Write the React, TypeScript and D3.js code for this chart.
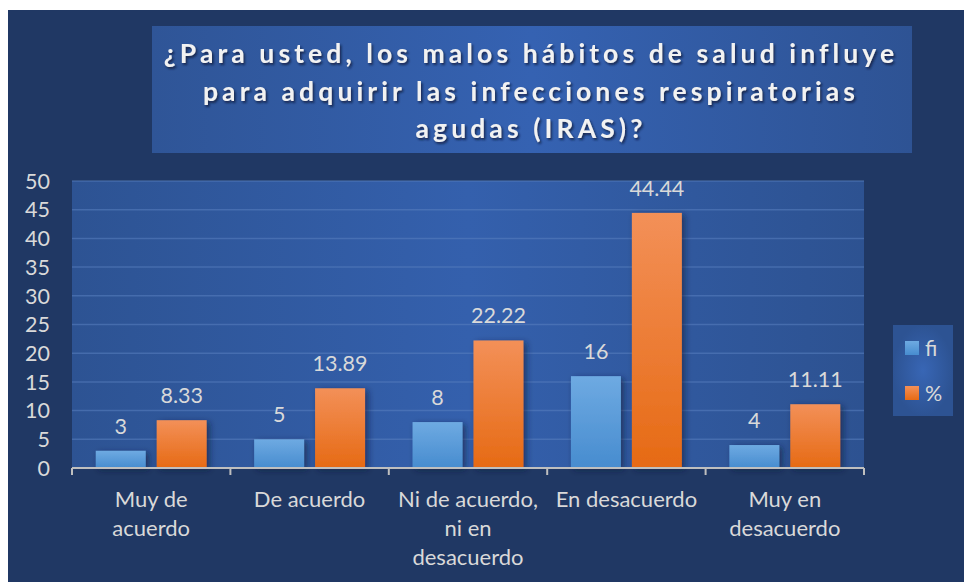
import React, { useEffect, useRef } from "react";
import * as d3 from "d3";

// datos
const categorias = [
  ["Muy de", "acuerdo"],
  ["De acuerdo"],
  ["Ni de acuerdo,", "ni en", "desacuerdo"],
  ["En desacuerdo"],
  ["Muy en", "desacuerdo"],
];
const fi = [3, 5, 8, 16, 4];
const porcentaje = [8.33, 13.89, 22.22, 44.44, 11.11];
const series = ["fi", "%"];
const yTicks = [0, 5, 10, 15, 20, 25, 30, 35, 40, 45, 50];
const tituloLineas = [
  "¿Para usted, los malos hábitos de salud influye",
  "para adquirir las infecciones respiratorias",
  "agudas (IRAS)?",
];

const W = 964;
const H = 582;
const FONT = "Lato, 'Open Sans', sans-serif";

export default function App() {
  const ref = useRef<SVGSVGElement>(null);

  useEffect(() => {
    const svg = d3.select(ref.current);
    svg.selectAll("*").remove();

    const defs = svg.append("defs");
    const lin = (id: string, stops: [string, string][], x2 = "0", y2 = "1") => {
      const g = defs.append("linearGradient").attr("id", id)
        .attr("x1", 0).attr("y1", 0).attr("x2", x2).attr("y2", y2);
      stops.forEach(([o, c]) => g.append("stop").attr("offset", o).attr("stop-color", c));
    };
    lin("gBlue", [["0", "#6eaae2"], ["1", "#478ccf"]]);
    lin("gOrange", [["0", "#f39058"], ["1", "#e66a14"]]);
    lin("gPlot", [["0", "#2d5393"], ["0.5", "#3460ad"], ["1", "#2d5291"]], "1", "0");
    lin("gTitle", [["0", "#2f5597"], ["0.5", "#3562b2"], ["1", "#2e5394"]], "1", "0");
    const rg = defs.append("radialGradient").attr("id", "gLegend");
    rg.append("stop").attr("offset", "0").attr("stop-color", "#3866b5");
    rg.append("stop").attr("offset", "1").attr("stop-color", "#2d5393");

    const sh = defs.append("filter").attr("id", "shadow")
      .attr("x", "-30%").attr("y", "-30%").attr("width", "160%").attr("height", "160%");
    sh.append("feDropShadow").attr("dx", 3).attr("dy", 2).attr("stdDeviation", 3)
      .attr("flood-color", "#0b1a38").attr("flood-opacity", 0.6);
    const tsh = defs.append("filter").attr("id", "tshadow");
    tsh.append("feDropShadow").attr("dx", 1.5).attr("dy", 2).attr("stdDeviation", 1.2)
      .attr("flood-color", "#0b1a38").attr("flood-opacity", 0.8);

    // fondo
    svg.append("rect").attr("x", 8).attr("y", 10).attr("width", W - 8).attr("height", H - 10)
      .attr("fill", "#203864");

    // titulo
    svg.append("rect").attr("x", 152).attr("y", 26).attr("width", 760).attr("height", 127)
      .attr("fill", "url(#gTitle)");
    svg.append("g").attr("filter", "url(#tshadow)")
      .selectAll("text").data(tituloLineas).join("text")
      .attr("x", 531).attr("y", (d, i) => 63 + i * 37.5)
      .attr("text-anchor", "middle")
      .attr("font-family", FONT).attr("font-weight", "bold").attr("font-size", 26.5)
      .attr("letter-spacing", 4.1)
      .attr("fill", "#f2f2f2")
      .text(d => d);

    const margin = { left: 72, right: 864, top: 181, bottom: 468 };
    const x0 = d3.scaleBand<number>().domain(d3.range(categorias.length))
      .range([margin.left, margin.right]);
    const x1 = d3.scaleBand<string>().domain(series)
      .range([0, x0.bandwidth()]).paddingInner(0.18).paddingOuter(0.39);
    const y = d3.scaleLinear().domain([0, 50]).range([margin.bottom, margin.top]);

    // area de trazado
    svg.append("rect").attr("x", margin.left).attr("y", margin.top)
      .attr("width", margin.right - margin.left).attr("height", margin.bottom - margin.top)
      .attr("fill", "url(#gPlot)");

    svg.append("g").selectAll("line").data(yTicks).join("line")
      .attr("x1", margin.left).attr("x2", margin.right)
      .attr("y1", d => y(d)).attr("y2", d => y(d))
      .attr("stroke", "#5a7fbf").attr("stroke-opacity", 0.55).attr("stroke-width", 1.5);

    svg.append("g").selectAll("text").data(yTicks).join("text")
      .attr("x", 50).attr("y", d => y(d)).attr("dy", "0.36em")
      .attr("text-anchor", "end")
      .attr("font-family", FONT).attr("font-size", 21.5).attr("fill", "#d9d9d9")
      .text(d => d);

    const valores = [fi, porcentaje];
    const fills = ["url(#gBlue)", "url(#gOrange)"];

    const grupos = svg.append("g").selectAll("g").data(series).join("g");
    grupos.each(function (s, si) {
      const g = d3.select(this);
      g.append("g").attr("filter", "url(#shadow)")
        .selectAll("rect").data(valores[si]).join("rect")
        .attr("x", (d, i) => (x0(i) as number) + (x1(s) as number))
        .attr("y", d => y(d))
        .attr("width", x1.bandwidth())
        .attr("height", d => y(0) - y(d))
        .attr("fill", fills[si]);
      g.append("g").selectAll("text").data(valores[si]).join("text")
        .attr("x", (d, i) => (x0(i) as number) + (x1(s) as number) + x1.bandwidth() / 2)
        .attr("y", d => y(d) - 17)
        .attr("text-anchor", "middle")
        .attr("font-family", FONT).attr("font-size", 21.5).attr("fill", "#d9d9d9")
        .text(d => (Number.isInteger(d) ? d : d.toFixed(2)));
    });

    // eje x
    const eje = svg.append("g").attr("stroke", "#bfbfbf").attr("stroke-width", 2).attr("fill", "none");
    eje.append("line").attr("x1", margin.left).attr("x2", margin.right)
      .attr("y1", margin.bottom).attr("y2", margin.bottom);
    eje.selectAll("line.tick").data(d3.range(categorias.length + 1)).join("line")
      .attr("class", "tick")
      .attr("x1", i => margin.left + i * x0.step()).attr("x2", i => margin.left + i * x0.step())
      .attr("y1", margin.bottom).attr("y2", margin.bottom + 7);

    svg.append("g").selectAll("text").data(categorias).join("text")
      .attr("text-anchor", "middle")
      .attr("font-family", FONT).attr("font-size", 22).attr("fill", "#d9d9d9")
      .each(function (lines, i) {
        d3.select(this).selectAll("tspan").data(lines).join("tspan")
          .attr("x", (x0(i) as number) + x0.bandwidth() / 2)
          .attr("y", (d, j) => 507 + j * 29)
          .text(d => d);
      });

    // leyenda
    svg.append("rect").attr("x", 893).attr("y", 325).attr("width", 60).attr("height", 91)
      .attr("fill", "url(#gLegend)");
    const ley = svg.append("g").selectAll("g").data(series).join("g")
      .attr("transform", (d, i) => `translate(905, ${341 + i * 45})`);
    ley.append("rect").attr("width", 14).attr("height", 14).attr("fill", (d, i) => fills[i]);
    ley.append("text").attr("x", 20).attr("y", 7).attr("dy", "0.36em")
      .attr("font-family", FONT).attr("font-size", 21.5).attr("fill", "#d9d9d9")
      .text(d => d);
  }, []);

  return (
    <svg ref={ref} width={W} height={H}
      style={{ position: "absolute", left: 0, top: 0, display: "block" }} />
  );
}
